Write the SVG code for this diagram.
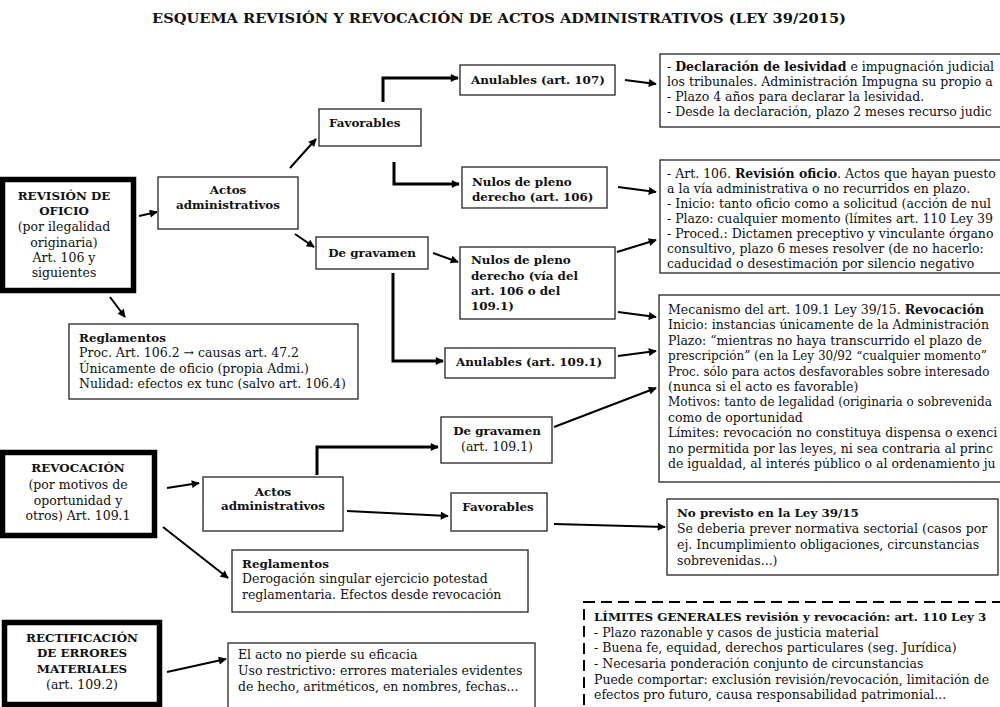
<svg xmlns="http://www.w3.org/2000/svg" width="1000" height="707" viewBox="0 0 1000 707">
<style>
text{font-family:"DejaVu Serif","Liberation Serif",serif;fill:#111}
.t{font-size:12.5px}
.s{font-size:12px}
.b{font-size:11.9px;font-weight:bold}
.c{text-anchor:middle}
.box{fill:#fff;stroke:#333;stroke-width:1.4}
.thick{fill:#fff;stroke:#000;stroke-width:5.5}
.dash{fill:none;stroke:#000;stroke-width:2;stroke-dasharray:11 6}
.ln{fill:none;stroke:#000;stroke-width:2;marker-end:url(#ah)}
.el{fill:none;stroke:#000;stroke-width:3;marker-end:url(#ah)}
</style>
<defs>
<marker id="ah" viewBox="0 0 10 10" refX="9" refY="5" markerWidth="10" markerHeight="8" markerUnits="userSpaceOnUse" orient="auto"><path d="M0,0 L10,5 L0,10 z" fill="#000"/></marker>
</defs>
<rect width="1000" height="707" fill="#fff"/>
<text x="499" y="23" class="c" style="font-size:13px;font-weight:bold" textLength="694" lengthAdjust="spacingAndGlyphs">ESQUEMA REVISIÓN Y REVOCACIÓN DE ACTOS ADMINISTRATIVOS (LEY 39/2015)</text>

<g id="connectors">
<path class="ln" d="M139,216 L157,212"/>
<path class="ln" d="M110,297 L125,317"/>
<path class="ln" d="M290,168 L316,139"/>
<path class="ln" d="M295,234 L314,247"/>
<path class="el" d="M383,102 L383,78 L458,78"/>
<path class="el" d="M394,162 L394,184 L459,184"/>
<path class="ln" d="M433,253 L458,262"/>
<path class="el" d="M393,273 L393,361 L443,361"/>
<path class="ln" d="M625,80 L656,84"/>
<path class="ln" d="M618,187 L656,192"/>
<path class="ln" d="M617,252 L656,240"/>
<path class="ln" d="M618,312 L656,317"/>
<path class="ln" d="M618,356 L656,351"/>
<path class="ln" d="M554,427 L656,388"/>
<path class="ln" d="M167,488 L199,483"/>
<path class="ln" d="M163,527 L228,578"/>
<path class="el" d="M317,475 L317,447 L438,447"/>
<path class="ln" d="M347,511 L448,516"/>
<path class="ln" d="M554,524 L665,527"/>
<path class="ln" d="M167,672 L226,659"/>
</g>

<g id="revision-oficio">
<rect class="thick" x="2.5" y="179.5" width="131" height="111"/>
<text class="b c" x="64" y="200">REVISIÓN DE</text>
<text class="b c" x="64" y="215">OFICIO</text>
<text class="t c" x="64" y="231">(por ilegalidad</text>
<text class="t c" x="64" y="247">originaria)</text>
<text class="t c" x="64" y="262">Art. 106 y</text>
<text class="t c" x="64" y="277">siguientes</text>
</g>

<g id="actos-1">
<rect class="box" x="158" y="177" width="140" height="52"/>
<text class="b c" x="228" y="194">Actos</text>
<text class="b c" x="228" y="209">administrativos</text>
</g>

<g id="favorables-1">
<rect class="box" x="319" y="109" width="102" height="37"/>
<text class="b" x="329" y="127">Favorables</text>
</g>

<g id="gravamen-1">
<rect class="box" x="316" y="237" width="112" height="32"/>
<text class="b c" x="372" y="257">De gravamen</text>
</g>

<g id="anulables-107">
<rect class="box" x="460" y="65" width="155" height="30"/>
<text class="b" x="471" y="84">Anulables (art. 107)</text>
</g>

<g id="nulos-106">
<rect class="box" x="462" y="167" width="145" height="41"/>
<text class="b" x="472" y="186">Nulos de pleno</text>
<text class="b" x="472" y="201">derecho (art. 106)</text>
</g>

<g id="nulos-via">
<rect class="box" x="460" y="247" width="155" height="72"/>
<text class="b" x="471" y="264">Nulos de pleno</text>
<text class="b" x="471" y="280">derecho (vía del</text>
<text class="b" x="471" y="295">art. 106 o del</text>
<text class="b" x="471" y="310">109.1)</text>
</g>

<g id="anulables-109">
<rect class="box" x="445" y="348" width="170" height="30"/>
<text class="b" x="456" y="366">Anulables (art. 109.1)</text>
</g>

<g id="lesividad">
<rect class="box" x="660" y="54" width="360" height="73"/>
<text class="t" x="667" y="71">- <tspan font-weight="bold">Declaración de lesividad</tspan> e impugnación judicial</text>
<text class="t" x="667" y="86">los tribunales. Administración Impugna su propio a</text>
<text class="t" x="667" y="101">- Plazo 4 años para declarar la lesividad.</text>
<text class="t" x="667" y="116">- Desde la declaración, plazo 2 meses recurso judic</text>
</g>

<g id="revision-106">
<rect class="box" x="660" y="160" width="360" height="113"/>
<text class="t" x="667" y="178">- Art. 106. <tspan font-weight="bold">Revisión oficio</tspan>. Actos que hayan puesto</text>
<text class="t" x="667" y="193">a la vía administrativa o no recurridos en plazo.</text>
<text class="t" x="667" y="208">- Inicio: tanto oficio como a solicitud (acción de nul</text>
<text class="t" x="667" y="223">- Plazo: cualquier momento (límites art. 110 Ley 39</text>
<text class="t" x="667" y="238">- Proced.: Dictamen preceptivo y vinculante órgano</text>
<text class="t" x="667" y="253">consultivo, plazo 6 meses resolver (de no hacerlo:</text>
<text class="t" x="667" y="268">caducidad o desestimación por silencio negativo</text>
</g>

<g id="mecanismo-109">
<rect class="box" x="659" y="295" width="360" height="187"/>
<text class="t" x="668" y="314">Mecanismo del art. 109.1 Ley 39/15. <tspan font-weight="bold">Revocación</tspan></text>
<text class="t" x="668" y="329.4">Inicio: instancias únicamente de la Administración</text>
<text class="t" x="668" y="344.8">Plazo: “mientras no haya transcurrido el plazo de</text>
<text class="s" x="668" y="360.2">prescripción” (en la Ley 30/92 “cualquier momento”</text>
<text class="s" x="668" y="375.6">Proc. sólo para actos desfavorables sobre interesado</text>
<text class="t" x="668" y="391">(nunca si el acto es favorable)</text>
<text class="s" x="668" y="406.4">Motivos: tanto de legalidad (originaria o sobrevenida</text>
<text class="t" x="668" y="421.8">como de oportunidad</text>
<text class="t" x="668" y="437.2">Límites: revocación no constituya dispensa o exenci</text>
<text class="t" x="668" y="452.6">no permitida por las leyes, ni sea contraria al princ</text>
<text class="t" x="668" y="468">de igualdad, al interés público o al ordenamiento ju</text>
</g>

<g id="reglamentos-1">
<rect class="box" x="69" y="324" width="289" height="75"/>
<text class="b" x="79" y="342">Reglamentos</text>
<text class="t" x="79" y="357">Proc. Art. 106.2 → causas art. 47.2</text>
<text class="t" x="79" y="373">Únicamente de oficio (propia Admi.)</text>
<text class="t" x="79" y="388">Nulidad: efectos ex tunc (salvo art. 106.4)</text>
</g>

<g id="revocacion">
<rect class="thick" x="2.5" y="452.5" width="152" height="83"/>
<text class="b c" x="78" y="472">REVOCACIÓN</text>
<text class="t c" x="78" y="489">(por motivos de</text>
<text class="t c" x="78" y="505">oportunidad y</text>
<text class="t c" x="78" y="520">otros) Art. 109.1</text>
</g>

<g id="actos-2">
<rect class="box" x="203" y="477" width="140" height="54"/>
<text class="b c" x="273" y="496">Actos</text>
<text class="b c" x="273" y="510">administrativos</text>
</g>

<g id="gravamen-2">
<rect class="box" x="441" y="417" width="111" height="46"/>
<text class="b c" x="497" y="435">De gravamen</text>
<text class="t c" x="497" y="451">(art. 109.1)</text>
</g>

<g id="favorables-2">
<rect class="box" x="451" y="493" width="96" height="38"/>
<text class="b c" x="498" y="511">Favorables</text>
</g>

<g id="no-previsto">
<rect class="box" x="667" y="499" width="331" height="76"/>
<text class="b" x="677" y="517">No previsto en la Ley 39/15</text>
<text class="t" x="677" y="533">Se deberia prever normativa sectorial (casos por</text>
<text class="t" x="677" y="549">ej. Incumplimiento obligaciones, circunstancias</text>
<text class="t" x="677" y="565">sobrevenidas...)</text>
</g>

<g id="reglamentos-2">
<rect class="box" x="232" y="550" width="296" height="62"/>
<text class="b" x="242" y="568">Reglamentos</text>
<text class="t" x="242" y="583">Derogación singular ejercicio potestad</text>
<text class="t" x="242" y="599">reglamentaria. Efectos desde revocación</text>
</g>

<g id="limites">
<rect class="dash" x="584" y="602" width="440" height="130"/>
<text class="b" x="594" y="621">LÍMITES GENERALES revisión y revocación: art. 110 Ley 3</text>
<text class="t" x="594" y="637">- Plazo razonable y casos de justicia material</text>
<text class="t" x="594" y="652">- Buena fe, equidad, derechos particulares (seg. Jurídica)</text>
<text class="t" x="594" y="668">- Necesaria ponderación conjunto de circunstancias</text>
<text class="t" x="594" y="684">Puede comportar: exclusión revisión/revocación, limitación de</text>
<text class="t" x="594" y="699">efectos pro futuro, causa responsabilidad patrimonial...</text>
</g>

<g id="rectificacion">
<rect class="thick" x="4.5" y="622.5" width="155" height="82"/>
<text class="b c" x="82" y="642">RECTIFICACIÓN</text>
<text class="b c" x="82" y="657">DE ERRORES</text>
<text class="b c" x="82" y="673">MATERIALES</text>
<text class="t c" x="82" y="689">(art. 109.2)</text>
</g>

<g id="rectificacion-detalle">
<rect class="box" x="228" y="643" width="307" height="80"/>
<text class="t" x="238" y="659">El acto no pierde su eficacia</text>
<text class="t" x="238" y="675">Uso restrictivo: errores materiales evidentes</text>
<text class="t" x="238" y="691">de hecho, aritméticos, en nombres, fechas...</text>
</g>
</svg>
